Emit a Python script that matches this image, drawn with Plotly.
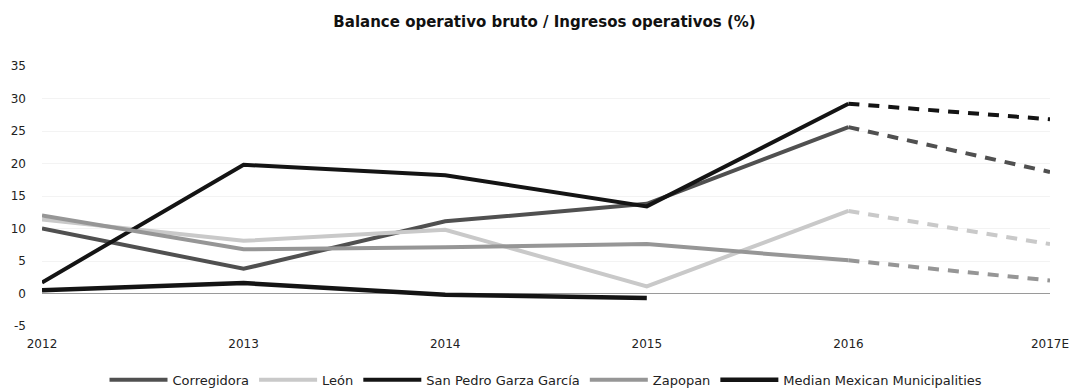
import plotly.graph_objects as go

years = [2012, 2013, 2014, 2015, 2016, 2017]
year_labels = ["2012", "2013", "2014", "2015", "2016", "2017E"]
y_ticks = [-5, 0, 5, 10, 15, 20, 25, 30, 35]
y_tick_labels = ["-5", "0", "5", "10", "15", "20", "25", "30", "35"]

corregidora = [10.0, 3.8, 11.1, 13.8, 25.6, 18.7]
leon = [11.4, 8.1, 9.8, 1.1, 12.7, 7.6]
san_pedro = [1.7, 19.8, 18.2, 13.4, 29.2, 26.8]
zapopan = [12.0, 6.8, 7.1, 7.6, 5.1, 2.0]
median_mx = [0.5, 1.6, -0.2, -0.7, None, None]

series = [
    ("Corregidora", corregidora, "#505050", 4),
    ("León", leon, "#c9c9c9", 4),
    ("San Pedro Garza García", san_pedro, "#141414", 4),
    ("Zapopan", zapopan, "#969696", 4),
    ("Median Mexican Municipalities", median_mx, "#141414", 4.5),
]

FONT = "DejaVu Sans, Liberation Sans, Arial, sans-serif"

fig = go.Figure()
for name, vals, color, w in series:
    # solid part: actual values up to 2016
    fig.add_trace(go.Scatter(
        x=years[:5], y=vals[:5], mode="lines", name=name,
        line=dict(color=color, width=w), showlegend=True,
    ))
    # dashed part: estimate 2016 -> 2017E
    if vals[4] is not None and vals[5] is not None:
        fig.add_trace(go.Scatter(
            x=years[4:], y=vals[4:], mode="lines", name=name,
            line=dict(color=color, width=w, dash="11px,9px"), showlegend=False,
        ))

fig.update_layout(
    width=1074, height=392,
    paper_bgcolor="white", plot_bgcolor="white",
    margin=dict(l=42, r=24, t=66, b=66),
    font=dict(family=FONT, size=12, color="#222222"),
    title=dict(text="<b>Balance operativo bruto / Ingresos operativos (%)</b>",
               x=0.507, xanchor="center", yref="container", y=0.944, yanchor="middle",
               font=dict(family=FONT, size=15, color="#111111")),
    showlegend=True,
    legend=dict(orientation="h", xref="paper", x=0.5, xanchor="center",
                yref="container", y=0.031, yanchor="middle",
                itemwidth=58, font=dict(family=FONT, size=13, color="#222222"),
                traceorder="normal", bgcolor="rgba(0,0,0,0)"),
)
fig.update_xaxes(
    tickmode="array", tickvals=years, ticktext=year_labels,
    range=[2012, 2017], showgrid=False, zeroline=False, showline=False,
    ticks="", ticklabelstandoff=9, automargin=False,
    tickfont=dict(family=FONT, size=12, color="#222222"),
)
fig.update_yaxes(
    range=[-5, 35], tickmode="array", tickvals=y_ticks, ticktext=y_tick_labels,
    showgrid=True, gridcolor="#f3f3f3", zeroline=True, zerolinecolor="#9a9a9a",
    zerolinewidth=1, showline=False, ticks="", ticklabelstandoff=15, automargin=False,
    tickfont=dict(family=FONT, size=12, color="#222222"),
)

fig.write_html(
    "out.html",
    config={"displayModeBar": False},
    post_script="document.body.style.margin='0';document.body.style.overflow='hidden';",
)
